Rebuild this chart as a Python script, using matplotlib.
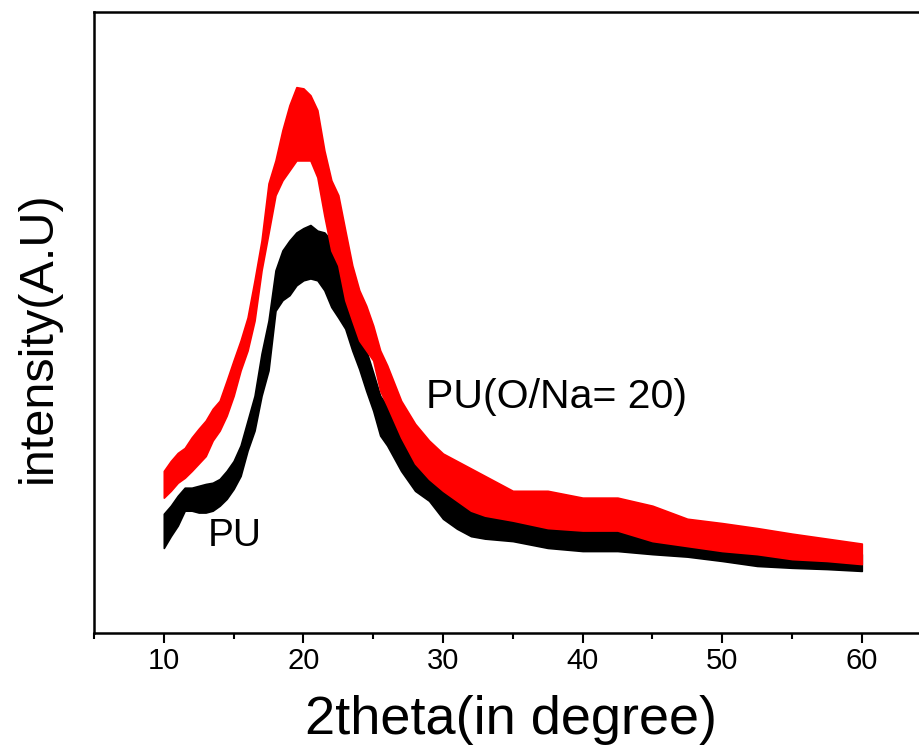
import matplotlib
matplotlib.use('Agg')
import matplotlib.pyplot as plt
from matplotlib.ticker import MultipleLocator

# 2theta positions (degrees) where the band of each noisy trace was read
theta = [10.0, 10.5, 11.0, 11.5, 12.0, 12.5, 13.0, 13.5, 14.0, 14.5, 15.0, 15.5,
         16.0, 16.5, 17.0, 17.5, 18.0, 18.5, 19.0, 19.5, 20.0, 20.5, 21.0, 21.5,
         22.0, 22.5, 23.0, 23.5, 24.0, 24.5, 25.0, 25.5, 26.0, 27.0, 28.0, 29.0,
         30.0, 31.0, 32.0, 33.0, 35.0, 37.5, 40.0, 42.5, 45.0, 47.5, 50.0, 52.5,
         55.0, 57.5, 60.0]

# PU (black): upper and lower edge of the noise band, arbitrary units
pu_hi = [192, 205, 221, 234, 234, 237, 240, 242, 248, 261, 277, 302,
         342, 382, 450, 503, 584, 616, 632, 645, 652, 657, 648, 645,
         632, 608, 579, 530, 487, 455, 419, 382, 366, 326, 285, 261,
         232, 218, 205, 197, 184, 176, 176, 169, 165, 156, 144, 135,
         129, 127, 127]
pu_lo = [137, 156, 173, 197, 197, 194, 194, 197, 205, 216, 232, 253,
         294, 326, 382, 423, 519, 536, 544, 560, 568, 571, 568, 552,
         525, 508, 490, 455, 425, 390, 358, 318, 302, 261, 229, 213,
         184, 168, 156, 152, 148, 137, 132, 132, 127, 123, 116, 108,
         105, 103, 100]

# PU(O/Na= 20) (red)
na_hi = [261, 277, 290, 298, 315, 329, 342, 361, 374, 406, 439, 471,
         508, 568, 632, 724, 761, 810, 850, 879, 877, 866, 842, 777,
         729, 705, 648, 592, 552, 527, 495, 455, 431, 374, 337, 310,
         289, 277, 265, 253, 229, 229, 218, 218, 205, 184, 177, 169,
         160, 152, 144]
na_lo = [218, 229, 242, 250, 261, 273, 285, 310, 326, 350, 382, 423,
         455, 503, 584, 644, 705, 729, 745, 761, 761, 761, 734, 672,
         616, 592, 536, 503, 471, 455, 439, 390, 366, 315, 273, 248,
         229, 213, 197, 189, 181, 169, 165, 165, 148, 140, 132, 127,
         119, 116, 111]

xticks = [10, 20, 30, 40, 50, 60]

plt.rcParams['font.family'] = ['Liberation Sans', 'DejaVu Sans']

fig = plt.figure(figsize=(9.19, 7.47), dpi=100)
ax = fig.add_axes([0.1023, 0.1526, 0.9114, 0.8313])

ax.fill_between(theta, pu_lo, pu_hi, color='black', lw=1.2)
ax.fill_between(theta, na_lo, na_hi, color='red', lw=1.2)

ax.set_xlim(5, 65)
ax.set_ylim(0, 1000)
ax.set_xticks(xticks)
ax.xaxis.set_minor_locator(MultipleLocator(5))
ax.set_yticks([])
ax.tick_params(axis='x', which='major', direction='out', length=7, width=1.5,
               labelsize=21, pad=3)
ax.tick_params(axis='x', which='minor', direction='out', length=4, width=1.5)
for s in ax.spines.values():
    s.set_linewidth(1.8)

ax.set_xlabel('2theta(in degree)', fontsize=39)
ax.set_ylabel('intensity(A.U)', fontsize=35)
ax.xaxis.set_label_coords(0.498, -0.100)
ax.yaxis.set_label_coords(-0.040, 0.477)

ax.text(13.15, 140, 'PU', fontsize=28, va='baseline', ha='left')
ax.text(28.77, 363, 'PU(O/Na= 20)', fontsize=29.5, va='baseline', ha='left')

fig.savefig('out.png', dpi=100)
